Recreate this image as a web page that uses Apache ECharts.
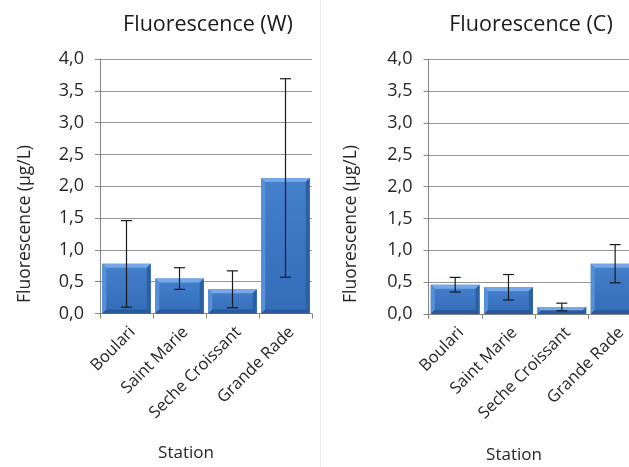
<!DOCTYPE html>
<html>
<head>
<meta charset="utf-8">
<script src="https://cdn.jsdelivr.net/npm/echarts@6/dist/echarts.min.js"></script>
<style>
  html, body { margin: 0; padding: 0; background: #ffffff; overflow: hidden; }
  /* the right panel runs past the visible edge, so the canvas is wider than the window */
  #chart { width: 660px; height: 467px; }
</style>
</head>
<body>
<div id="chart"></div>
<script>
// Stations sampled
const stations = ['Boulari', 'Saint Marie', 'Seche Croissant', 'Grande Rade'];

// Fluorescence (W): mean and standard deviation, µg/L
const meanW = [0.78, 0.55, 0.38, 2.13];
const sdW = [0.68, 0.17, 0.29, 1.56];

// Fluorescence (C): mean and standard deviation, µg/L
const meanC = [0.46, 0.42, 0.11, 0.79];
const sdC = [0.115, 0.20, 0.06, 0.30];

// Value axis range
const yMin = 0;
const yMax = 4;
const yStep = 0.5;

const FONT = '"Open Sans", "Noto Sans", sans-serif';
const TEXT = '#262626';
const AXIS = '#868686';
const GRID = '#969696';

// Bevelled bar drawn in the axis coordinate system
function bevelBar(params, api) {
  const i = api.value(0);
  const v = api.value(1);
  const base = api.coord([i, 0]);
  const top = api.coord([i, v]);
  const band = api.size([1, 0])[0];
  const w = band * 0.915;
  const x0 = base[0] - w / 2;
  const y0 = top[1];
  const h = base[1] - top[1];
  const b = Math.min(4, h / 2, w / 2);
  const x1 = x0 + w, y1 = y0 + h;
  return {
    type: 'group',
    children: [
      { type: 'rect', shape: { x: x0, y: y0, width: w, height: h },
        style: { fill: new echarts.graphic.LinearGradient(0, 0, 0, 1, [
          { offset: 0, color: '#4580cd' }, { offset: 1, color: '#336cb7' }]) } },
      { type: 'polygon', shape: { points: [[x0, y0], [x1, y0], [x1 - b, y0 + b], [x0 + b, y0 + b]] },
        style: { fill: '#74a8e6' } },
      { type: 'polygon', shape: { points: [[x0, y0], [x0 + b, y0 + b], [x0 + b, y1 - b], [x0, y1]] },
        style: { fill: '#5590d8' } },
      { type: 'polygon', shape: { points: [[x1, y0], [x1, y1], [x1 - b, y1 - b], [x1 - b, y0 + b]] },
        style: { fill: '#2d5fa3' } },
      { type: 'polygon', shape: { points: [[x0, y1], [x1, y1], [x1 - b, y1 - b], [x0 + b, y1 - b]] },
        style: { fill: '#2b5a9c' } }
    ]
  };
}

// Error bar (mean ± sd) with caps
function errorBar(params, api) {
  const i = api.value(0);
  const lo = api.coord([i, api.value(1)]);
  const hi = api.coord([i, api.value(2)]);
  const cap = 5.5;
  const st = { stroke: '#1a1a1a', lineWidth: 1.2 };
  return {
    type: 'group',
    children: [
      { type: 'line', shape: { x1: lo[0], y1: lo[1], x2: hi[0], y2: hi[1] }, style: st },
      { type: 'line', shape: { x1: lo[0] - cap, y1: lo[1], x2: lo[0] + cap, y2: lo[1] }, style: st },
      { type: 'line', shape: { x1: hi[0] - cap, y1: hi[1], x2: hi[0] + cap, y2: hi[1] }, style: st }
    ]
  };
}

function barData(means) {
  return means.map((m, i) => [i, m]);
}
function errData(means, sds) {
  return means.map((m, i) => [i, m - sds[i], m + sds[i]]);
}

function xAxisFor(gridIndex) {
  return {
    type: 'category',
    gridIndex: gridIndex,
    data: stations,
    boundaryGap: true,
    axisLine: { lineStyle: { color: AXIS, width: 1 } },
    axisTick: { show: true, length: 5, lineStyle: { color: AXIS } },
    axisLabel: { rotate: 45, margin: 10, fontSize: 16.5, fontFamily: FONT, color: TEXT,
      interval: 0, verticalAlign: 'top' },
    splitLine: { show: false }
  };
}
function yAxisFor(gridIndex) {
  return {
    type: 'value',
    gridIndex: gridIndex,
    min: yMin,
    max: yMax,
    interval: yStep,
    axisLine: { show: true, lineStyle: { color: AXIS, width: 1 } },
    axisTick: { show: true, length: 5, lineStyle: { color: AXIS } },
    axisLabel: {
      margin: 16, fontSize: 18, fontFamily: FONT, color: TEXT,
      formatter: v => v.toFixed(1).replace('.', ',')
    },
    splitLine: { show: true, lineStyle: { color: GRID, width: 1 } }
  };
}

const chart = echarts.init(document.getElementById('chart'), null, { renderer: 'canvas' });

chart.setOption({
  backgroundColor: '#ffffff',
  animation: false,
  title: [
    { text: 'Fluorescence (W)', left: 203, top: 9, textAlign: 'center',
      textStyle: { fontFamily: FONT, fontSize: 21.5, fontWeight: 'normal', color: '#1a1a1a' } },
    { text: 'Fluorescence (C)', left: 526, top: 9, textAlign: 'center',
      textStyle: { fontFamily: FONT, fontSize: 21.5, fontWeight: 'normal', color: '#1a1a1a' } }
  ],
  grid: [
    { left: 100, top: 59, width: 212, height: 254.5, containLabel: false },
    { left: 428.5, top: 59.3, width: 213.3, height: 254.7, containLabel: false }
  ],
  xAxis: [xAxisFor(0), xAxisFor(1)],
  yAxis: [yAxisFor(0), yAxisFor(1)],
  series: [
    { type: 'custom', name: 'Fluorescence (W)', xAxisIndex: 0, yAxisIndex: 0,
      renderItem: bevelBar, data: barData(meanW), encode: { x: 0, y: 1 } },
    { type: 'custom', name: 'sd (W)', xAxisIndex: 0, yAxisIndex: 0, z: 5,
      renderItem: errorBar, data: errData(meanW, sdW), encode: { x: 0, y: [1, 2] } },
    { type: 'custom', name: 'Fluorescence (C)', xAxisIndex: 1, yAxisIndex: 1,
      renderItem: bevelBar, data: barData(meanC), encode: { x: 0, y: 1 } },
    { type: 'custom', name: 'sd (C)', xAxisIndex: 1, yAxisIndex: 1, z: 5,
      renderItem: errorBar, data: errData(meanC, sdC), encode: { x: 0, y: [1, 2] } }
  ],
  graphic: [
    // panel divider
    { type: 'line', shape: { x1: 320.5, y1: 0, x2: 320.5, y2: 467 },
      style: { stroke: '#ededed', lineWidth: 1 } },
    // axis titles
    { type: 'text', x: 25, y: 224, rotation: Math.PI / 2,
      style: { text: 'Fluorescence (µg/L)', fontFamily: FONT, fontSize: 17.5, fill: TEXT,
        textAlign: 'center', textVerticalAlign: 'middle' } },
    { type: 'text', x: 351, y: 224, rotation: Math.PI / 2,
      style: { text: 'Fluorescence (µg/L)', fontFamily: FONT, fontSize: 17.5, fill: TEXT,
        textAlign: 'center', textVerticalAlign: 'middle' } },
    { type: 'text', x: 186, y: 453,
      style: { text: 'Station', fontFamily: FONT, fontSize: 17, fill: TEXT,
        textAlign: 'center', textVerticalAlign: 'middle' } },
    { type: 'text', x: 514, y: 455,
      style: { text: 'Station', fontFamily: FONT, fontSize: 17, fill: TEXT,
        textAlign: 'center', textVerticalAlign: 'middle' } }
  ]
});
</script>
</body>
</html>
